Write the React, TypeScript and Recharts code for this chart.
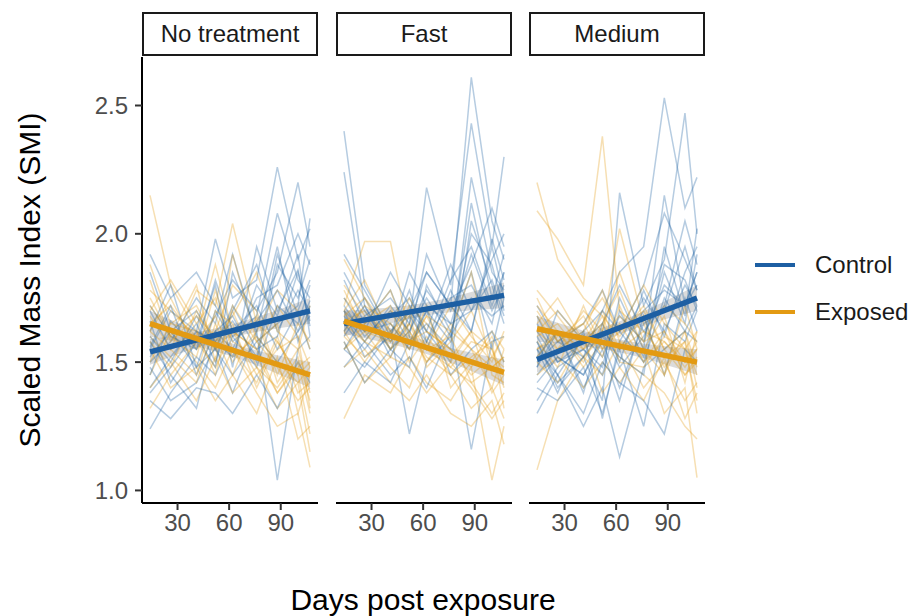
import React from "react";
import { ComposedChart, Line, Area, XAxis, YAxis } from "recharts";

// measurement days (days post exposure)
const DAYS = [14, 26, 41, 52, 62, 76, 88, 100, 107];
const TREND_DAYS = [14, 107];
const BAND_DAYS = [14, 60.5, 107];
const PANELS = ["No treatment", "Fast", "Medium"];
const X_TICKS = [30, 60, 90];
const Y_TICKS = [1.0, 1.5, 2.0, 2.5];

// individual SMI trajectories, one row per animal
const NT_CONTROL = [
  [1.24, 1.38, 1.52, 1.45, 1.6, 1.48, 1.72, 1.65, 1.8],
  [1.55, 1.7, 1.62, 1.98, 1.75, 1.82, 2.26, 1.9, 2.02],
  [1.48, 1.35, 1.42, 1.56, 1.38, 1.62, 1.04, 1.55, 1.6],
  [1.72, 1.6, 1.55, 1.68, 1.82, 1.7, 1.85, 2.2, 1.95],
  [1.62, 1.8, 1.48, 1.55, 1.45, 1.58, 1.65, 1.72, 2.06],
  [1.4, 1.52, 1.65, 1.5, 1.7, 1.88, 1.62, 1.78, 1.7],
  [1.85, 1.62, 1.7, 1.58, 1.66, 1.52, 1.92, 1.68, 1.55],
  [1.35, 1.28, 1.4, 1.38, 1.3, 1.45, 1.32, 1.5, 1.42],
  [1.58, 1.45, 1.32, 1.62, 1.55, 1.75, 1.8, 2.0, 1.88],
  [1.92, 1.75, 1.85, 1.72, 1.6, 1.68, 2.08, 1.82, 1.75],
  [1.5, 1.58, 1.75, 1.65, 1.92, 1.6, 1.5, 1.62, 1.68],
  [1.66, 1.42, 1.58, 1.8, 1.48, 1.95, 1.7, 1.86, 1.64],
  [1.52, 1.62, 1.48, 1.7, 1.58, 1.66, 1.78, 1.62, 1.74],
  [1.6, 1.5, 1.68, 1.55, 1.72, 1.55, 1.6, 1.85, 1.66],
  [1.45, 1.66, 1.55, 1.82, 1.62, 1.72, 1.55, 1.7, 1.82],
  [1.7, 1.55, 1.6, 1.48, 1.85, 1.62, 1.95, 1.58, 1.72],
  [1.38, 1.48, 1.62, 1.58, 1.52, 1.8, 1.68, 1.92, 1.6],
  [1.56, 1.72, 1.45, 1.62, 1.68, 1.5, 1.88, 1.75, 1.9],
];
const NT_EXPOSED = [
  [2.15, 1.8, 1.62, 1.55, 1.7, 1.48, 1.4, 1.52, 1.35],
  [1.68, 1.55, 1.78, 1.72, 2.04, 1.65, 1.58, 1.45, 1.5],
  [1.45, 1.62, 1.5, 1.4, 1.55, 1.38, 1.25, 1.3, 1.09],
  [1.78, 1.7, 1.6, 1.88, 1.62, 1.55, 1.72, 1.6, 1.48],
  [1.55, 1.4, 1.48, 1.35, 1.45, 1.3, 1.52, 1.2, 1.25],
  [1.62, 1.75, 1.55, 1.62, 1.8, 1.7, 1.45, 1.65, 1.58],
  [1.4, 1.5, 1.35, 1.52, 1.38, 1.48, 1.32, 1.42, 1.15],
  [1.88, 1.65, 1.72, 1.58, 1.68, 1.85, 1.62, 1.55, 1.72],
  [1.7, 1.82, 1.65, 1.75, 1.55, 1.42, 1.6, 1.38, 1.42],
  [1.32, 1.45, 1.58, 1.48, 1.62, 1.55, 1.38, 1.5, 1.3],
  [1.6, 1.52, 1.42, 1.65, 1.5, 1.62, 1.78, 1.7, 1.55],
  [1.75, 1.6, 1.8, 1.5, 1.92, 1.58, 1.48, 1.35, 1.4],
  [1.65, 1.72, 1.58, 1.68, 1.52, 1.6, 1.5, 1.42, 1.48],
  [1.58, 1.48, 1.7, 1.55, 1.62, 1.45, 1.55, 1.6, 1.32],
  [1.72, 1.6, 1.52, 1.78, 1.58, 1.52, 1.38, 1.48, 1.52],
  [1.5, 1.65, 1.62, 1.45, 1.72, 1.58, 1.65, 1.3, 1.45],
  [1.82, 1.58, 1.68, 1.6, 1.45, 1.68, 1.42, 1.55, 1.38],
  [1.62, 1.55, 1.45, 1.7, 1.65, 1.4, 1.58, 1.45, 1.22],
];
const FAST_CONTROL = [
  [2.4, 1.8, 1.62, 1.7, 1.85, 1.72, 2.61, 2.05, 1.9],
  [2.24, 1.72, 1.55, 1.65, 2.18, 1.8, 2.43, 1.95, 2.3],
  [1.55, 1.48, 1.62, 1.22, 1.5, 1.6, 1.75, 1.68, 1.72],
  [1.72, 1.6, 1.7, 1.58, 1.65, 1.55, 2.22, 1.85, 1.78],
  [1.48, 1.58, 1.45, 1.52, 1.4, 1.62, 1.16, 1.58, 1.6],
  [1.82, 1.65, 1.78, 1.6, 1.92, 1.7, 1.88, 2.1, 1.95],
  [1.6, 1.72, 1.52, 1.68, 1.58, 1.82, 1.95, 1.72, 1.85],
  [1.65, 1.55, 1.68, 1.75, 1.62, 1.5, 2.05, 1.8, 1.65],
  [1.38, 1.5, 1.42, 1.58, 1.7, 1.45, 1.55, 1.62, 1.5],
  [1.92, 1.78, 1.6, 1.85, 1.72, 1.65, 1.7, 1.9, 2.0],
  [1.58, 1.42, 1.55, 1.48, 1.8, 1.62, 1.85, 1.55, 1.75],
  [1.7, 1.62, 1.85, 1.72, 1.55, 1.78, 1.62, 1.98, 1.82],
  [1.68, 1.58, 1.72, 1.62, 1.78, 1.65, 1.92, 1.7, 1.8],
  [1.62, 1.75, 1.58, 1.7, 1.62, 1.88, 1.7, 1.82, 1.68],
  [1.75, 1.62, 1.65, 1.55, 1.7, 1.58, 2.12, 1.75, 1.92],
  [1.55, 1.68, 1.75, 1.65, 1.85, 1.72, 1.62, 1.95, 1.75],
  [1.7, 1.52, 1.6, 1.78, 1.58, 1.75, 1.8, 1.65, 1.85],
  [1.85, 1.7, 1.55, 1.62, 1.75, 1.6, 2.0, 1.88, 1.7],
];
const FAST_EXPOSED = [
  [1.72, 1.97, 1.97, 1.6, 1.55, 1.48, 1.42, 1.3, 1.38],
  [1.28, 1.45, 1.38, 1.52, 1.42, 1.35, 1.48, 1.04, 1.25],
  [1.65, 1.58, 1.7, 1.62, 1.5, 1.65, 1.55, 1.48, 1.52],
  [1.8, 1.68, 1.55, 1.72, 1.65, 1.52, 1.62, 1.55, 1.45],
  [1.55, 1.62, 1.48, 1.4, 1.58, 1.45, 1.32, 1.4, 1.28],
  [1.62, 1.5, 1.65, 1.55, 1.72, 1.4, 1.5, 1.62, 1.55],
  [1.9, 1.75, 1.62, 1.68, 1.48, 1.58, 1.7, 1.52, 1.6],
  [1.48, 1.55, 1.42, 1.35, 1.45, 1.3, 1.25, 1.35, 1.18],
  [1.7, 1.82, 1.6, 1.75, 1.62, 1.55, 1.48, 1.6, 1.5],
  [1.58, 1.42, 1.52, 1.48, 1.38, 1.5, 1.4, 1.28, 1.35],
  [1.75, 1.65, 1.78, 1.58, 1.68, 1.62, 1.85, 1.45, 1.42],
  [1.66, 1.7, 1.58, 1.65, 1.55, 1.72, 1.6, 1.5, 1.62],
  [1.62, 1.72, 1.65, 1.58, 1.62, 1.55, 1.45, 1.52, 1.48],
  [1.7, 1.58, 1.52, 1.65, 1.5, 1.62, 1.55, 1.4, 1.55],
  [1.55, 1.65, 1.72, 1.5, 1.6, 1.48, 1.58, 1.55, 1.4],
  [1.78, 1.62, 1.58, 1.7, 1.55, 1.6, 1.42, 1.48, 1.52],
  [1.6, 1.52, 1.62, 1.55, 1.68, 1.5, 1.62, 1.38, 1.45],
  [1.68, 1.75, 1.55, 1.62, 1.52, 1.45, 1.52, 1.58, 1.32],
];
const MEDIUM_CONTROL = [
  [1.45, 1.55, 1.62, 1.7, 1.85, 1.95, 2.53, 2.1, 2.22],
  [1.58, 1.4, 1.52, 1.35, 2.16, 1.72, 1.9, 2.47, 2.0],
  [1.3, 1.45, 1.25, 1.4, 1.13, 1.48, 1.55, 1.62, 1.58],
  [1.65, 1.5, 1.58, 1.62, 1.48, 1.6, 1.8, 1.72, 1.85],
  [1.4, 1.35, 1.48, 1.3, 1.55, 1.25, 1.65, 1.58, 1.7],
  [1.72, 1.58, 1.65, 1.78, 1.62, 1.8, 2.08, 1.9, 1.78],
  [1.52, 1.62, 1.4, 1.55, 1.35, 1.68, 1.45, 1.75, 1.62],
  [1.35, 1.48, 1.55, 1.45, 1.7, 1.52, 1.85, 1.65, 1.92],
  [1.6, 1.45, 1.3, 1.5, 1.42, 1.35, 1.22, 1.55, 1.5],
  [1.48, 1.7, 1.58, 1.65, 1.8, 1.62, 1.72, 2.05, 1.88],
  [1.55, 1.38, 1.62, 1.28, 1.58, 1.75, 1.62, 1.8, 1.72],
  [1.68, 1.52, 1.45, 1.6, 1.52, 1.45, 1.95, 1.68, 2.02],
  [1.5, 1.58, 1.52, 1.62, 1.55, 1.7, 1.78, 1.72, 1.8],
  [1.55, 1.45, 1.6, 1.52, 1.68, 1.58, 1.88, 1.82, 1.7],
  [1.42, 1.52, 1.45, 1.58, 1.4, 1.65, 1.7, 1.95, 1.78],
  [1.62, 1.5, 1.55, 1.48, 1.75, 1.55, 2.15, 1.72, 1.85],
  [1.48, 1.62, 1.38, 1.65, 1.5, 1.78, 1.6, 1.85, 1.95],
  [1.58, 1.42, 1.52, 1.7, 1.62, 1.5, 1.75, 1.62, 1.72],
];
const MEDIUM_EXPOSED = [
  [2.2, 1.9, 1.75, 1.68, 1.6, 1.72, 1.55, 1.62, 1.48],
  [1.08, 1.35, 1.52, 1.45, 1.58, 1.4, 1.5, 1.35, 1.42],
  [2.09, 1.98, 1.8, 2.38, 1.7, 1.62, 1.58, 1.5, 1.55],
  [1.62, 1.55, 1.7, 1.62, 2.02, 1.65, 1.48, 1.58, 1.3],
  [1.55, 1.62, 1.48, 1.58, 1.52, 1.45, 1.38, 1.25, 1.2],
  [1.7, 1.58, 1.65, 1.75, 1.62, 1.8, 1.65, 1.55, 1.62],
  [1.45, 1.52, 1.4, 1.5, 1.42, 1.55, 1.3, 1.4, 1.05],
  [1.78, 1.68, 1.55, 1.62, 1.85, 1.58, 1.72, 1.65, 1.58],
  [1.5, 1.42, 1.6, 1.38, 1.48, 1.35, 1.52, 1.28, 1.38],
  [1.65, 1.75, 1.58, 1.7, 1.55, 1.68, 1.45, 1.72, 1.55],
  [1.58, 1.48, 1.72, 1.55, 1.65, 1.5, 1.62, 1.45, 1.5],
  [1.72, 1.62, 1.5, 1.65, 1.78, 1.55, 1.68, 1.42, 1.62],
  [1.62, 1.7, 1.58, 1.65, 1.55, 1.62, 1.52, 1.58, 1.45],
  [1.55, 1.6, 1.65, 1.52, 1.72, 1.5, 1.58, 1.48, 1.55],
  [1.68, 1.55, 1.62, 1.78, 1.58, 1.55, 1.45, 1.62, 1.4],
  [1.6, 1.65, 1.52, 1.6, 1.68, 1.58, 1.62, 1.5, 1.58],
  [1.75, 1.58, 1.68, 1.55, 1.62, 1.7, 1.55, 1.45, 1.52],
  [1.52, 1.62, 1.55, 1.68, 1.5, 1.48, 1.6, 1.55, 1.35],
];

// fitted linear trends (start, end)
const TREND_CONTROL = [
  [1.54, 1.7],
  [1.65, 1.76],
  [1.51, 1.75],
];
const TREND_EXPOSED = [
  [1.65, 1.45],
  [1.66, 1.46],
  [1.63, 1.5],
];
// confidence bands around the trends (at BAND_DAYS)
const BAND_CONTROL_LO = [
  [1.49, 1.595, 1.65],
  [1.6, 1.68, 1.71],
  [1.46, 1.605, 1.7],
];
const BAND_CONTROL_HI = [
  [1.59, 1.645, 1.75],
  [1.7, 1.73, 1.81],
  [1.56, 1.655, 1.8],
];
const BAND_EXPOSED_LO = [
  [1.6, 1.525, 1.4],
  [1.61, 1.535, 1.41],
  [1.58, 1.54, 1.45],
];
const BAND_EXPOSED_HI = [
  [1.7, 1.575, 1.5],
  [1.71, 1.585, 1.51],
  [1.68, 1.59, 1.55],
];

const CONTROL = [NT_CONTROL, FAST_CONTROL, MEDIUM_CONTROL];
const EXPOSED = [NT_EXPOSED, FAST_EXPOSED, MEDIUM_EXPOSED];

const BLUE = "#1D5FA3";
const ORANGE = "#E39A12";
const FONT = '"Liberation Sans", Arial, sans-serif';

const X_DOMAIN = [9.35, 111.65];
const Y_DOMAIN = [0.951, 2.689];

const PANEL_X = [142, 336, 529];
const PANEL_W = 176;
const PLOT_TOP = 57;
const PLOT_BOTTOM = 503;
const H = 616;
const X_AXIS_H = 44;
const Y_AXIS_W = 142;

function buildRows(control: number[][], exposed: number[][]) {
  return DAYS.map((day, i) => {
    const row: Record<string, number> = { day };
    control.forEach((s, k) => (row[`c${k}`] = s[i]));
    exposed.forEach((s, k) => (row[`e${k}`] = s[i]));
    return row;
  });
}

function trendRows(vals: number[]) {
  return TREND_DAYS.map((day, i) => ({ day, fit: vals[i] }));
}

function bandRows(lo: number[], hi: number[]) {
  return BAND_DAYS.map((day, i) => ({ day, band: [lo[i], hi[i]] }));
}

function Panel({ idx }: { idx: number }) {
  const first = idx === 0;
  const rows = buildRows(CONTROL[idx], EXPOSED[idx]);
  const left = first ? 0 : PANEL_X[idx];
  const width = first ? PANEL_X[0] + PANEL_W : PANEL_W;
  const n = CONTROL[idx].length;
  const lines = [];
  for (let k = 0; k < n; k++) {
    lines.push(
      <Line key={`c${k}`} dataKey={`c${k}`} stroke={BLUE} strokeOpacity={0.32} strokeWidth={1.5}
        dot={false} activeDot={false} isAnimationActive={false} />
    );
    lines.push(
      <Line key={`e${k}`} dataKey={`e${k}`} stroke={ORANGE} strokeOpacity={0.32} strokeWidth={1.5}
        dot={false} activeDot={false} isAnimationActive={false} />
    );
  }
  return (
    <div style={{ position: "absolute", left, top: 0 }}>
      <ComposedChart
        width={width}
        height={H}
        data={rows}
        margin={{ top: PLOT_TOP, right: 0, left: 0, bottom: H - PLOT_BOTTOM - X_AXIS_H }}
      >
        <XAxis
          dataKey="day"
          type="number"
          domain={X_DOMAIN}
          ticks={X_TICKS}
          allowDataOverflow
          height={X_AXIS_H}
          tick={{ fill: "#4D4D4D", fontSize: 24, fontFamily: FONT }}
          tickSize={7}
          tickMargin={4}
          axisLine={{ stroke: "#000", strokeWidth: 2 }}
          tickLine={{ stroke: "#333", strokeWidth: 2 }}
        />
        <YAxis
          type="number"
          domain={Y_DOMAIN}
          ticks={Y_TICKS}
          allowDataOverflow
          hide={!first}
          width={Y_AXIS_W}
          tickFormatter={(v: number) => v.toFixed(1)}
          tick={{ fill: "#4D4D4D", fontSize: 24, fontFamily: FONT }}
          tickSize={7}
          tickMargin={7}
          axisLine={{ stroke: "#000", strokeWidth: 2 }}
          tickLine={{ stroke: "#333", strokeWidth: 2 }}
        />
        {lines}
        <Area data={bandRows(BAND_CONTROL_LO[idx], BAND_CONTROL_HI[idx])} dataKey="band"
          type="monotone" stroke="none" fill="#999" fillOpacity={0.35} isAnimationActive={false} />
        <Area data={bandRows(BAND_EXPOSED_LO[idx], BAND_EXPOSED_HI[idx])} dataKey="band"
          type="monotone" stroke="none" fill="#999" fillOpacity={0.35} isAnimationActive={false} />
        <Line data={trendRows(TREND_CONTROL[idx])} dataKey="fit" stroke={BLUE} strokeWidth={5.5}
          dot={false} activeDot={false} isAnimationActive={false} />
        <Line data={trendRows(TREND_EXPOSED[idx])} dataKey="fit" stroke={ORANGE} strokeWidth={5.5}
          dot={false} activeDot={false} isAnimationActive={false} />
      </ComposedChart>
    </div>
  );
}

function Strip({ idx }: { idx: number }) {
  return (
    <div
      style={{
        position: "absolute",
        left: PANEL_X[idx],
        top: 12,
        width: PANEL_W,
        height: 44,
        boxSizing: "border-box",
        border: "2px solid #1a1a1a",
        background: "#fff",
        display: "flex",
        alignItems: "center",
        justifyContent: "center",
        fontSize: 24,
        color: "#1a1a1a",
      }}
    >
      {PANELS[idx]}
    </div>
  );
}

export default function App() {
  return (
    <div
      style={{
        position: "absolute",
        left: 0,
        top: 0,
        width: 912,
        height: 616,
        background: "#fff",
        fontFamily: FONT,
        overflow: "hidden",
      }}
    >
      {PANELS.map((_, i) => (
        <Panel key={i} idx={i} />
      ))}
      {PANELS.map((_, i) => (
        <Strip key={i} idx={i} />
      ))}
      <div
        style={{
          position: "absolute",
          left: 30,
          top: 280,
          transform: "translate(-50%, -50%) rotate(-90deg)",
          whiteSpace: "nowrap",
          fontSize: 30,
          color: "#000",
        }}
      >
        Scaled Mass Index (SMI)
      </div>
      <div
        style={{
          position: "absolute",
          left: 423,
          top: 600,
          transform: "translate(-50%, -50%)",
          whiteSpace: "nowrap",
          fontSize: 30,
          color: "#000",
        }}
      >
        Days post exposure
      </div>
      {[
        { label: "Control", color: BLUE, y: 265 },
        { label: "Exposed", color: ORANGE, y: 312 },
      ].map((it) => (
        <div key={it.label}>
          <div
            style={{
              position: "absolute",
              left: 755,
              top: it.y - 2,
              width: 40,
              height: 4,
              background: it.color,
            }}
          />
          <div
            style={{
              position: "absolute",
              left: 815,
              top: it.y,
              transform: "translateY(-50%)",
              fontSize: 24,
              color: "#1a1a1a",
              whiteSpace: "nowrap",
            }}
          >
            {it.label}
          </div>
        </div>
      ))}
    </div>
  );
}
